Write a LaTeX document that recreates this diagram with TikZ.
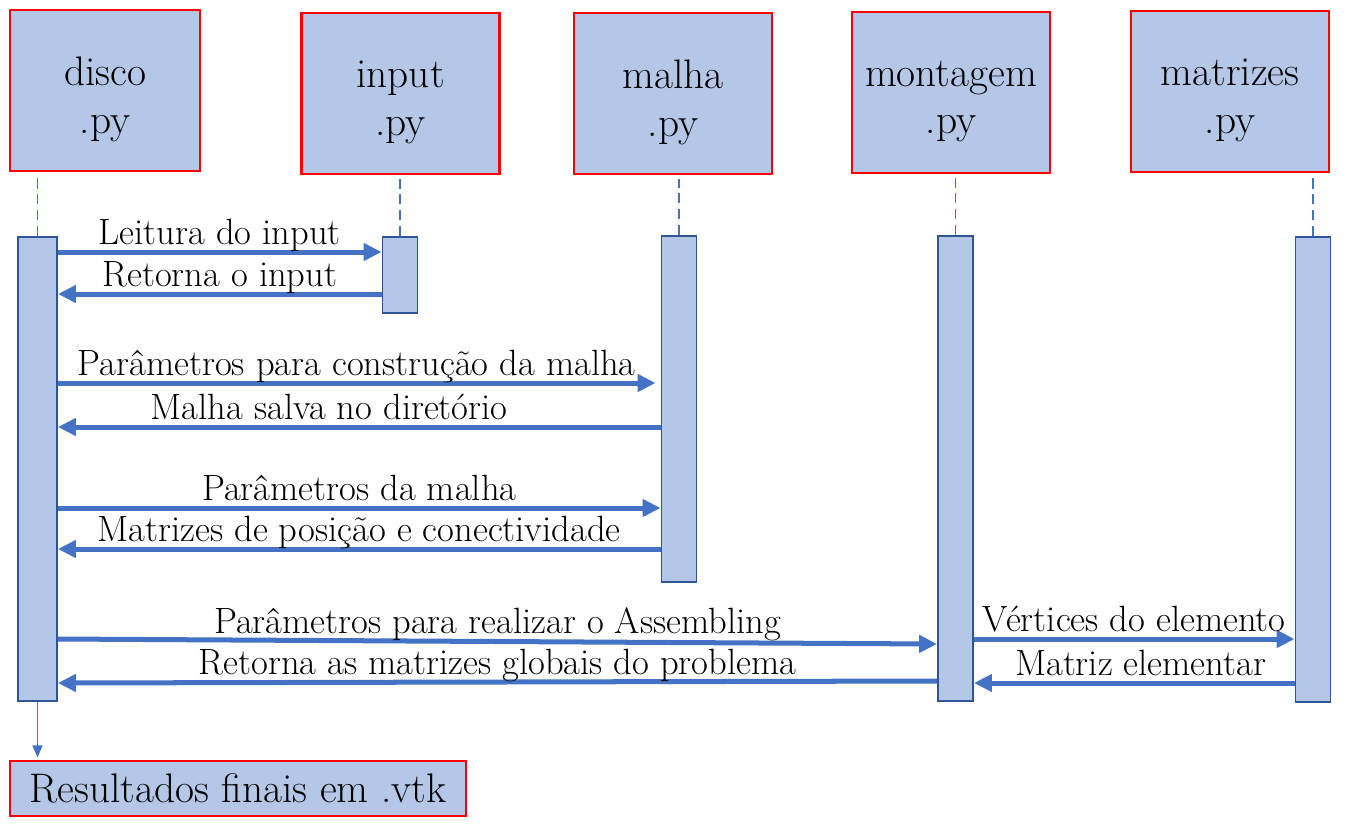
\documentclass[tikz,border=0pt]{standalone}
\usepackage{tikz}
\usetikzlibrary{arrows.meta}
\definecolor{box_blue}{RGB}{180, 199, 231}
\definecolor{box_red}{RGB}{255, 0, 0}
\definecolor{bar_edge}{RGB}{47, 85, 151}
\definecolor{msg_blue}{RGB}{68, 114, 196}
\tikzstyle{hd}=[rectangle,fill=box_blue,draw=box_red,line width=1.2pt,
  inner sep=0pt,minimum width=3.96cm,minimum height=3.22cm]
\tikzstyle{hdtxt}=[align=center,font=\fontsize{23.5}{27}\selectfont,yshift=-0.18cm]
\tikzstyle{act}=[rectangle,fill=box_blue,draw=bar_edge,line width=1.1pt,
  inner sep=0pt,minimum width=0.7cm]
\tikzstyle{life}=[draw=msg_blue,line width=0.8pt,dash pattern=on 6pt off 3pt]
\tikzstyle{msg}=[draw=msg_blue,line width=2.85pt,-{Triangle[length=0.36cm,width=0.34cm]}]
\tikzstyle{lbl}=[midway,above,inner sep=0pt,text depth=0.3em,
  font=\fontsize{20.8}{23}\selectfont]
\tikzstyle{res}=[draw=msg_blue,line width=0.8pt,-{Triangle[length=0.24cm,width=0.2cm]}]
\tikzstyle{none}=[]

\begin{document}
\begin{tikzpicture}[x=0.02cm,y=-0.02cm]
            \useasboundingbox (0, 0) rectangle (1352, 826);
            \node [style=hd, minimum width=3.8cm, label={[style=hdtxt]center:{disco\\.py}}] (0) at (105, 90.5) {};
            \node [style=hd, label={[style=hdtxt]center:{input\\.py}}] (1) at (400.5, 93.5) {};
            \node [style=hd, label={[style=hdtxt]center:{malha\\.py}}] (2) at (673, 93.5) {};
            \node [style=hd, label={[style=hdtxt]center:{montagem\\.py}}] (3) at (951, 92.5) {};
            \node [style=hd, label={[style=hdtxt]center:{matrizes\\.py}}] (4) at (1230, 91.5) {};
            \node [style=act, minimum width=0.78cm, minimum height=9.28cm] (5) at (37.5, 469) {};
            \node [style=act, minimum height=1.52cm] (6) at (400, 275) {};
            \node [style=act, minimum height=6.92cm] (7) at (679, 409) {};
            \node [style=act, minimum height=9.3cm] (8) at (955.5, 468.5) {};
            \node [style=act, minimum height=9.3cm] (9) at (1313, 469.5) {};
            \node [style=hd, minimum width=9.12cm, minimum height=1.1cm,
              font=\fontsize{23.5}{27}\selectfont] (10) at (238, 788.5) {Resultados finais em .vtk};
            \draw [style=life] (5.north) to ([yshift=-0.08cm] 5.north |- 0.south);
            \draw [style=life] (6.north) to ([yshift=-0.08cm] 6.north |- 1.south);
            \draw [style=life] (7.north) to ([yshift=-0.08cm] 7.north |- 2.south);
            \draw [style=life] (8.north) to ([yshift=-0.08cm] 8.north |- 3.south);
            \draw [style=life] (9.north) to ([yshift=-0.08cm] 9.north |- 4.south);
            \draw [style=msg] (5.east |- 0,252) to node [style=lbl] {Leitura do input} (6.west |- 0,252);
            \draw [style=msg] (6.west |- 0,294) to node [style=lbl] {Retorna o input} (5.east |- 0,294);
            \draw [style=msg] (5.east |- 0,383) to node [style=lbl] {Parâmetros para construção da malha} ([xshift=-0.1cm] 7.west |- 0,383);
            \draw [style=msg] (7.west |- 0,427) to node [style=lbl, pos=0.55] {Malha salva no diretório} (5.east |- 0,427);
            \draw [style=msg] (5.east |- 0,508) to node [style=lbl] {Parâmetros da malha} (7.west |- 0,508);
            \draw [style=msg] (7.west |- 0,549) to node [style=lbl] {Matrizes de posição e conectividade} (5.east |- 0,549);
            \draw [style=msg] (5.east |- 0,639) to node [style=lbl] {Parâmetros para realizar o Assembling} (8.west |- 0,644);
            \draw [style=msg] (8.west |- 0,681) to node [style=lbl] {Retorna as matrizes globais do problema} (5.east |- 0,683);
            \draw [style=msg] (8.east |- 0,639) to node [style=lbl] {Vértices do elemento} (9.west |- 0,639);
            \draw [style=msg] (9.west |- 0,683) to node [style=lbl, pos=0.48] {Matriz elementar} (8.east |- 0,683);
            \draw [style=res] (5.south) to ([yshift=0.05cm] 5.south |- 10.north);
    \end{tikzpicture}
\end{document}
